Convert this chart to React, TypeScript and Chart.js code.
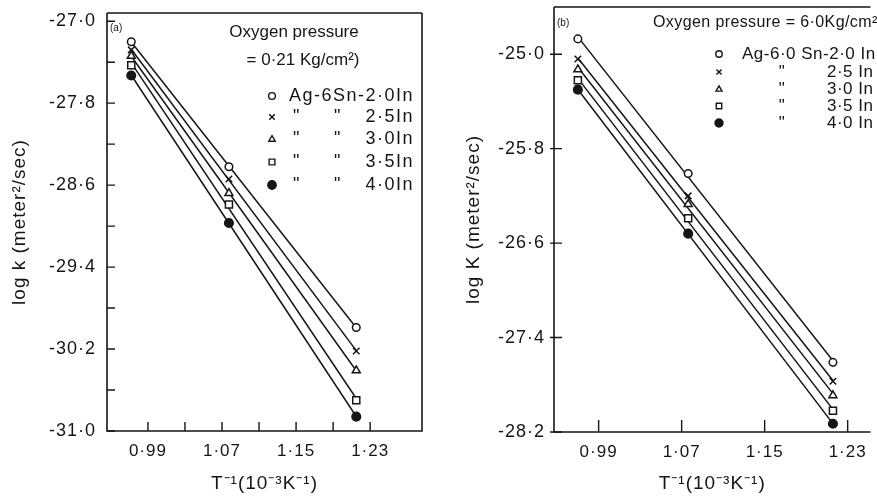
import React, { useEffect, useRef } from 'react';
import { Chart, registerables } from 'chart.js';

Chart.register(...registerables);

const FONT = '"Liberation Sans", Arial, sans-serif';
const INK = '#151515';

// ---------- Panel (a): oxygen pressure 0.21 kg/cm2 ----------
const xA = [0.972, 1.0775, 1.215];
const aIn20 = [-27.2, -28.42, -29.99];
const aIn25 = [-27.28, -28.54, -30.22];
const aIn30 = [-27.34, -28.68, -30.41];
const aIn35 = [-27.43, -28.79, -30.7];
const aIn40 = [-27.53, -28.97, -30.86];

// ---------- Panel (b): oxygen pressure 6.0 kg/cm2 ----------
const xB = [0.97, 1.0763, 1.2158];
const bIn20 = [-24.87, -26.01, -27.61];
const bIn25 = [-25.04, -26.2, -27.77];
const bIn30 = [-25.13, -26.27, -27.89];
const bIn35 = [-25.22, -26.39, -28.02];
const bIn40 = [-25.3, -26.52, -28.13];

// ---------- ticks ----------
const yTicksA = [-27.0, -27.8, -28.6, -29.4, -30.2, -31.0];
const yMinorA = [-27.4, -28.2, -29.0, -29.8, -30.6];
const xTicksA = [0.99, 1.07, 1.15, 1.23];
const xMinorA = [1.03, 1.11, 1.19];
const yTicksB = [-25.0, -25.8, -26.6, -27.4, -28.2];
const xTicksB = [0.99, 1.07, 1.15, 1.23];

// ---------- texts ----------
const panelLabelA = '(a)';
const panelLabelB = '(b)';
const legendTitleA = ['Oxygen pressure', '= 0·21 Kg/cm²)'];
const legendFirstA = 'Ag-6Sn-2·0In';
const legendRowsA = ['2·5In', '3·0In', '3·5In', '4·0In'];
const legendTitleB = 'Oxygen pressure = 6·0Kg/cm²';
const legendFirstB = 'Ag-6·0 Sn-2·0 In';
const legendRowsB = ['2·5 In', '3·0 In', '3·5 In', '4·0 In'];
const xTitle = 'T⁻¹(10⁻³K⁻¹)';
const yTitleA = 'log k (meter²/sec)';
const yTitleB = 'log K (meter²/sec)';

const markerStyles = ['circle', 'crossRot', 'triangle', 'rect', 'circle'];
const markerFilled = [false, false, false, false, true];

function fmt(v: number, d: number) {
  const s = Math.abs(v).toFixed(d).replace('.', '·');
  return v < 0 ? '-' + s : s;
}

function linFit(xs: number[], ys: number[]) {
  const n = xs.length;
  const mx = xs.reduce((a, b) => a + b, 0) / n;
  const my = ys.reduce((a, b) => a + b, 0) / n;
  let sxy = 0;
  let sxx = 0;
  for (let i = 0; i < n; i++) {
    sxy += (xs[i] - mx) * (ys[i] - my);
    sxx += (xs[i] - mx) * (xs[i] - mx);
  }
  const k = sxy / sxx;
  return (x: number) => my + k * (x - mx);
}

function buildDatasets(xs: number[], series: number[][], radii: number[]) {
  const ds: any[] = [];
  series.forEach((ys, i) => {
    const f = linFit(xs, ys);
    const x0 = xs[0];
    const x1 = xs[xs.length - 1];
    ds.push({
      type: 'line',
      label: 'fit ' + i,
      data: [
        { x: x0, y: f(x0) },
        { x: x1, y: f(x1) },
      ],
      borderColor: INK,
      borderWidth: 1.5,
      pointRadius: 0,
      fill: false,
      tension: 0,
      order: 1,
    });
    ds.push({
      type: 'scatter',
      label: 'series ' + i,
      data: xs.map((x, j) => ({ x, y: ys[j] })),
      pointStyle: markerStyles[i],
      pointRadius: radii[i],
      pointBackgroundColor: markerFilled[i] ? INK : '#ffffff',
      pointBorderColor: INK,
      pointBorderWidth: 1.5,
      showLine: false,
      order: 0,
    });
  });
  return ds;
}

function drawMarker(ctx: CanvasRenderingContext2D, style: string, filled: boolean, x: number, y: number, r: number) {
  ctx.save();
  ctx.strokeStyle = INK;
  ctx.lineWidth = 1.4;
  ctx.beginPath();
  if (style === 'circle') {
    ctx.arc(x, y, r, 0, Math.PI * 2);
  } else if (style === 'crossRot') {
    const d = r * 0.8;
    ctx.moveTo(x - d, y - d);
    ctx.lineTo(x + d, y + d);
    ctx.moveTo(x + d, y - d);
    ctx.lineTo(x - d, y + d);
  } else if (style === 'triangle') {
    ctx.moveTo(x, y - r);
    ctx.lineTo(x + r * 0.95, y + r * 0.65);
    ctx.lineTo(x - r * 0.95, y + r * 0.65);
    ctx.closePath();
  } else {
    ctx.rect(x - r * 0.85, y - r * 0.85, r * 1.7, r * 1.7);
  }
  if (filled) {
    ctx.fillStyle = INK;
    ctx.fill();
  }
  ctx.stroke();
  ctx.restore();
}

type FrameCfg = {
  boxTop: boolean;
  boxRight: boolean;
  yMajor: number[];
  yMinor: number[];
  xMajor: number[];
  xMinor: number[];
  yOut: number;
  yIn: number;
  xIn: number;
  legend: (ctx: CanvasRenderingContext2D) => void;
};

function makeFramePlugin(cfg: FrameCfg) {
  return {
    id: 'frameTicks',
    beforeDraw(chart: any) {
      (chart.ctx as any).letterSpacing = '1px';
    },
    afterDatasetsDraw(chart: any) {
      const { ctx, chartArea: a, scales } = chart;
      const xs = scales.x;
      const ys = scales.y;
      ctx.save();
      ctx.strokeStyle = INK;
      ctx.lineWidth = 1.6;
      ctx.beginPath();
      ctx.moveTo(a.left, a.top);
      ctx.lineTo(a.left, a.bottom);
      ctx.lineTo(a.right, a.bottom);
      if (cfg.boxRight) {
        ctx.lineTo(a.right, a.top);
      }
      if (cfg.boxTop) {
        ctx.moveTo(a.left, a.top);
        ctx.lineTo(a.right, a.top);
      }
      ctx.stroke();
      ctx.lineWidth = 1.4;
      ctx.beginPath();
      for (const v of cfg.yMajor.concat(cfg.yMinor)) {
        const p = ys.getPixelForValue(v);
        ctx.moveTo(a.left - cfg.yOut, p);
        ctx.lineTo(a.left + cfg.yIn, p);
      }
      for (const v of cfg.xMajor.concat(cfg.xMinor)) {
        const p = xs.getPixelForValue(v);
        ctx.moveTo(p, a.bottom);
        ctx.lineTo(p, a.bottom - cfg.xIn);
      }
      ctx.stroke();
      ctx.restore();
    },
    afterDraw(chart: any) {
      const ctx = chart.ctx as CanvasRenderingContext2D;
      ctx.save();
      ctx.fillStyle = INK;
      cfg.legend(ctx);
      ctx.restore();
    },
  };
}

function legendA(ctx: CanvasRenderingContext2D) {
  ctx.textBaseline = 'middle';
  (ctx as any).letterSpacing = '0px';
  ctx.font = `10px ${FONT}`;
  ctx.textAlign = 'left';
  ctx.fillText(panelLabelA, 110, 28);
  ctx.font = `17px ${FONT}`;
  ctx.textAlign = 'center';
  ctx.fillText(legendTitleA[0], 294, 32);
  ctx.fillText(legendTitleA[1], 303, 60);
  const rowsY = [96, 117, 139, 162, 185];
  rowsY.forEach((y, i) => {
    drawMarker(ctx, markerStyles[i], markerFilled[i], 272, y, i === 4 ? 4.2 : 3.4);
  });
  ctx.font = `18px ${FONT}`;
  (ctx as any).letterSpacing = '1.5px';
  ctx.textAlign = 'left';
  ctx.fillText(legendFirstA, 289, rowsY[0]);
  legendRowsA.forEach((t, i) => {
    const y = rowsY[i + 1];
    ctx.textAlign = 'center';
    ctx.fillText('"', 297, y);
    ctx.fillText('"', 338, y);
    ctx.textAlign = 'right';
    ctx.fillText(t, 414, y);
  });
}

function legendB(ctx: CanvasRenderingContext2D) {
  ctx.textBaseline = 'middle';
  (ctx as any).letterSpacing = '0px';
  ctx.font = `10px ${FONT}`;
  ctx.textAlign = 'left';
  ctx.fillText(panelLabelB, 120, 23);
  ctx.font = `16px ${FONT}`;
  (ctx as any).letterSpacing = '0.4px';
  ctx.fillText(legendTitleB, 216, 23);
  const rowsY = [54, 72, 89, 106, 123];
  rowsY.forEach((y, i) => {
    drawMarker(ctx, markerStyles[i], markerFilled[i], 282, y, i === 4 ? 4 : 3.2);
  });
  ctx.font = `17px ${FONT}`;
  (ctx as any).letterSpacing = '0.5px';
  ctx.textAlign = 'left';
  ctx.fillText(legendFirstB, 305, rowsY[0]);
  legendRowsB.forEach((t, i) => {
    const y = rowsY[i + 1];
    ctx.textAlign = 'center';
    ctx.fillText('"', 345, y);
    ctx.textAlign = 'left';
    ctx.fillText(t, 390, y);
  });
}

function makeScales(o: {
  xMin: number;
  xMax: number;
  yMin: number;
  yMax: number;
  xTicks: number[];
  yTicks: number[];
  yAxisWidth: number;
  xAxisHeight: number;
  yTitle: string;
  yTitlePad: number;
  yTickPad: number;
}) {
  return {
    x: {
      type: 'linear',
      min: o.xMin,
      max: o.xMax,
      afterBuildTicks: (s: any) => {
        s.ticks = o.xTicks.map((v) => ({ value: v }));
      },
      afterFit: (s: any) => {
        s.height = o.xAxisHeight;
        s.paddingLeft = 0;
        s.paddingRight = 0;
      },
      grid: { display: false, drawTicks: false, tickLength: 0 },
      border: { display: false },
      ticks: {
        padding: 10,
        color: INK,
        autoSkip: false,
        maxRotation: 0,
        font: { family: FONT, size: 17 },
        callback: (v: any) => fmt(Number(v), 2),
      },
      title: {
        display: true,
        text: xTitle,
        color: INK,
        font: { family: FONT, size: 19 },
        padding: { top: 0, bottom: 2 },
      },
    },
    y: {
      type: 'linear',
      min: o.yMin,
      max: o.yMax,
      afterBuildTicks: (s: any) => {
        s.ticks = o.yTicks.map((v) => ({ value: v }));
      },
      afterFit: (s: any) => {
        s.width = o.yAxisWidth;
        s.paddingTop = 0;
        s.paddingBottom = 0;
      },
      grid: { display: false, drawTicks: false, tickLength: 0 },
      border: { display: false },
      ticks: {
        padding: o.yTickPad,
        color: INK,
        autoSkip: false,
        font: { family: FONT, size: 18 },
        callback: (v: any) => fmt(Number(v), 1),
      },
      title: {
        display: true,
        text: o.yTitle,
        color: INK,
        font: { family: FONT, size: 19 },
        padding: { top: o.yTitlePad, bottom: 0 },
      },
    },
  };
}

function configA(): any {
  return {
    type: 'scatter',
    data: { datasets: buildDatasets(xA, [aIn20, aIn25, aIn30, aIn35, aIn40], [3.8, 4.6, 4.6, 5, 4.3]) },
    options: {
      responsive: false,
      animation: false,
      devicePixelRatio: 1,
      layout: { padding: { left: 0, right: 15, top: 13, bottom: 0 } },
      plugins: { legend: { display: false }, tooltip: { enabled: false } },
      scales: makeScales({
        xMin: 0.9458,
        xMax: 1.286,
        yMin: -31.0,
        yMax: -26.92,
        xTicks: xTicksA,
        yTicks: yTicksA,
        yAxisWidth: 107,
        xAxisHeight: 66,
        yTitle: yTitleA,
        yTitlePad: 8,
        yTickPad: 11,
      }),
    },
    plugins: [
      makeFramePlugin({
        boxTop: true,
        boxRight: true,
        yMajor: yTicksA,
        yMinor: yMinorA,
        xMajor: xTicksA,
        xMinor: xMinorA,
        yOut: 0,
        yIn: 8,
        xIn: 9,
        legend: legendA,
      }),
    ],
  };
}

function configB(): any {
  return {
    type: 'scatter',
    data: { datasets: buildDatasets(xB, [bIn20, bIn25, bIn30, bIn35, bIn40], [3.8, 4.6, 4.6, 5, 4.3]) },
    options: {
      responsive: false,
      animation: false,
      devicePixelRatio: 1,
      layout: { padding: { left: 0, right: 0, top: 7, bottom: 0 } },
      plugins: { legend: { display: false }, tooltip: { enabled: false } },
      scales: makeScales({
        xMin: 0.947,
        xMax: 1.252,
        yMin: -28.2,
        yMax: -24.6,
        xTicks: xTicksB,
        yTicks: yTicksB,
        yAxisWidth: 117,
        xAxisHeight: 65,
        yTitle: yTitleB,
        yTitlePad: 25,
        yTickPad: 9,
      }),
    },
    plugins: [
      makeFramePlugin({
        boxTop: true,
        boxRight: false,
        yMajor: yTicksB,
        yMinor: [],
        xMajor: xTicksB,
        xMinor: [],
        yOut: 4,
        yIn: 8,
        xIn: 12,
        legend: legendB,
      }),
    ],
  };
}

function Panel({ make, left, width, height }: { make: () => any; left: number; width: number; height: number }) {
  const ref = useRef<HTMLCanvasElement | null>(null);
  useEffect(() => {
    if (!ref.current) return;
    const chart = new Chart(ref.current, make());
    return () => chart.destroy();
  }, [make]);
  return (
    <div style={{ position: 'absolute', left, top: 0, width, height }}>
      <canvas ref={ref} width={width} height={height} style={{ display: 'block', width, height }} />
    </div>
  );
}

export default function App() {
  return (
    <div style={{ position: 'absolute', left: 0, top: 0, width: 877, height: 497, background: '#ffffff', overflow: 'hidden' }}>
      <Panel make={configA} left={0} width={437} height={497} />
      <Panel make={configB} left={437} width={440} height={497} />
    </div>
  );
}
